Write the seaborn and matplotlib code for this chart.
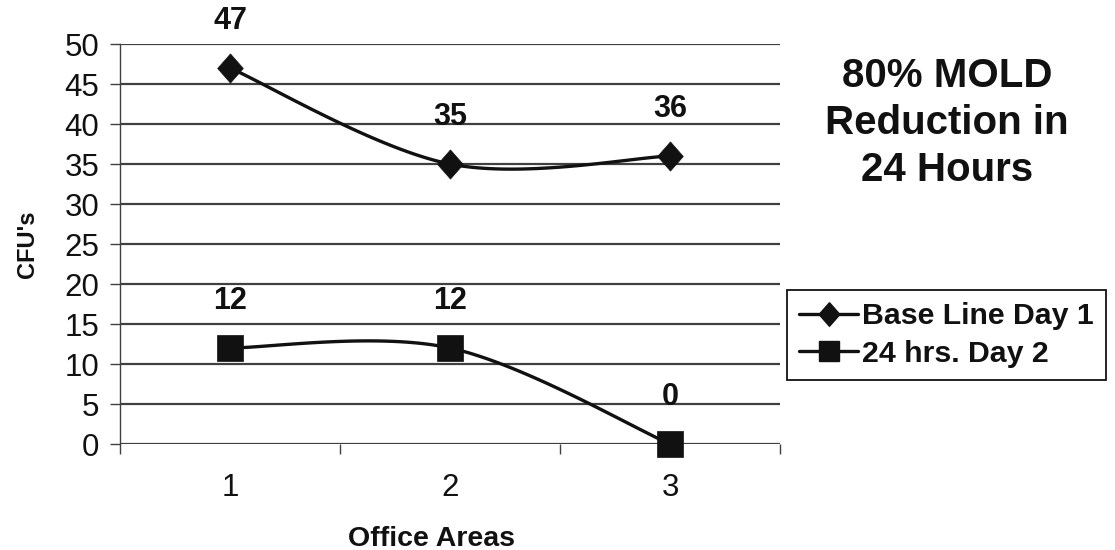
import numpy as np
import pandas as pd
import matplotlib
matplotlib.use("Agg")
import matplotlib.pyplot as plt
from matplotlib.lines import Line2D
import seaborn as sns

# Data
areas = [1, 2, 3]
area_labels = ["1", "2", "3"]
baseline_day1 = [47, 35, 36]
after_24h_day2 = [12, 12, 0]
series_names = ["Base Line Day 1", "24 hrs. Day 2"]
headline = "80% MOLD\nReduction in\n24 Hours"

INK = "#111111"
GRID = "#404040"

sns.set_theme(style="white")
plt.rcParams["font.family"] = ["Liberation Sans", "DejaVu Sans"]


def smooth_curve(xs, ys, n=60):
    """Bezier smoothing through the points (Catmull-Rom style control points)."""
    p = np.column_stack([xs, ys]).astype(float)
    pts = np.vstack([p[0], p, p[-1]])
    out = []
    for i in range(1, len(pts) - 2):
        p0, p1, p2, p3 = pts[i - 1], pts[i], pts[i + 1], pts[i + 2]
        c1 = p1 + (p2 - p0) / 6.0
        c2 = p2 - (p3 - p1) / 6.0
        t = np.linspace(0, 1, n)[:, None]
        seg = ((1 - t) ** 3) * p1 + 3 * ((1 - t) ** 2) * t * c1 \
            + 3 * (1 - t) * t ** 2 * c2 + t ** 3 * p2
        out.append(seg if i == 1 else seg[1:])
    seg = np.vstack(out)
    return seg[:, 0], seg[:, 1]


# diamond and square marker shapes
diamond = [(0, 1), (0.88, 0), (0, -1), (-0.88, 0), (0, 1)]
square = "s"

fig = plt.figure(figsize=(11.15, 5.5), dpi=100)
ax = fig.add_axes([120 / 1115, 106 / 550, 660 / 1115, 400 / 550])

markers = [diamond, square]
msizes = [21, 18.5]
series = [baseline_day1, after_24h_day2]

frames = []
for name, vals in zip(series_names, series):
    sx, sy = smooth_curve(areas, vals)
    frames.append(pd.DataFrame({"area": sx, "cfu": sy, "series": name}))
curves = pd.concat(frames, ignore_index=True)

sns.lineplot(data=curves, x="area", y="cfu", units="series", estimator=None,
             sort=False, color=INK, linewidth=2.4, ax=ax, legend=False)

for name, vals, mk, ms in zip(series_names, series, markers, msizes):
    pts = pd.DataFrame({"area": areas, "cfu": vals})
    sns.scatterplot(data=pts, x="area", y="cfu", marker=mk, s=ms ** 2,
                    color=INK, edgecolor=INK, linewidth=0.5, ax=ax,
                    zorder=5, legend=False)
    for x, v in zip(areas, vals):
        ax.annotate(f"{v}", (x, v), xytext=(0, 34), textcoords="offset points",
                    ha="center", va="center", fontsize=22, fontweight="bold",
                    color=INK, annotation_clip=False)
for coll in ax.collections:
    coll.set_clip_on(False)

# Axes styling
ax.set_xlim(0.5, 3.5)
ax.set_ylim(0, 50)
ax.set_yticks(np.arange(0, 51, 5))
ax.set_xticks(areas)
ax.set_xticklabels(area_labels)
ax.set_xticks([0.5, 1.5, 2.5, 3.5], minor=True)
ax.tick_params(axis="x", which="major", length=0, pad=21, labelsize=22.5,
               colors=INK)
ax.tick_params(axis="x", which="minor", bottom=True, length=7, width=1.0,
               color=GRID, direction="out")
ax.tick_params(axis="y", left=True, length=7, width=1.0, color=GRID,
               direction="out", pad=8, labelsize=22.5, labelcolor=INK)
ax.yaxis.grid(True, color=GRID, linewidth=1.6)
ax.xaxis.grid(False)
ax.set_axisbelow(True)
for side in ["top", "right", "bottom"]:
    ax.spines[side].set_visible(False)
ax.spines["left"].set_color(GRID)
ax.spines["left"].set_linewidth(1.0)

ax.set_xlabel("Office Areas", fontsize=20.5, fontweight="bold", color=INK)
ax.set_ylabel("CFU's", fontsize=17, fontweight="bold", color=INK)
ax.xaxis.set_label_coords((432 - 120) / 660, -0.205)
ax.yaxis.set_label_coords((39 - 120) / 660, 0.5)

# Headline
fig.text(947 / 1115, 1 - 123 / 550, headline, ha="center", va="center",
         fontsize=29, fontweight="bold", color=INK, linespacing=1.3)

# Legend
handles = [Line2D([], [], color=INK, linewidth=2.4, marker=mk, markersize=ms,
                  markerfacecolor=INK, markeredgecolor=INK)
           for mk, ms in zip([diamond, "s"], [17, 15])]
leg = fig.legend(handles, series_names, loc="upper left",
                 bbox_to_anchor=(787 / 1115, 1 - 290 / 550),
                 bbox_transform=fig.transFigure, frameon=True, fancybox=False,
                 edgecolor=INK, framealpha=1, borderpad=0.4, labelspacing=0.32,
                 handlelength=1.95, handletextpad=0.12, borderaxespad=0,
                 prop={"size": 21.8, "weight": "bold"})
leg.get_frame().set_linewidth(1.3)
for t in leg.get_texts():
    t.set_color(INK)

fig.savefig("out.png", dpi=100, facecolor="white")
